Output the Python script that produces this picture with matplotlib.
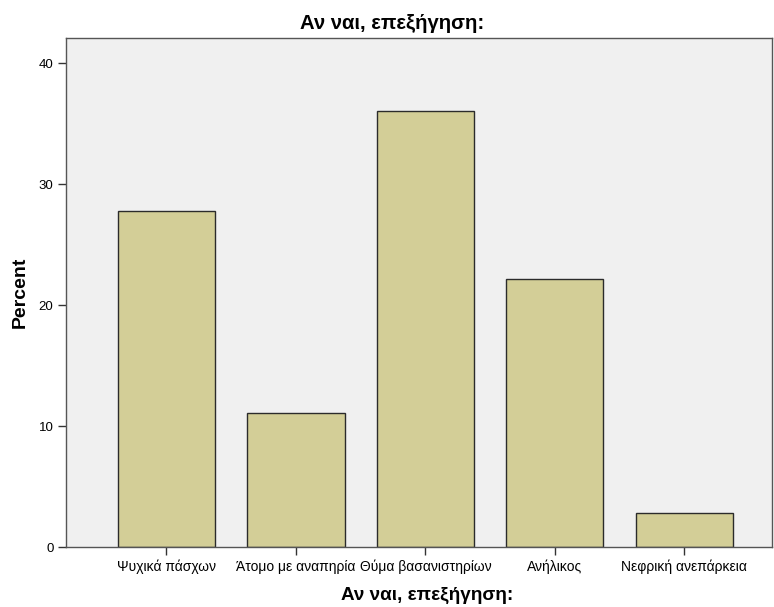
import matplotlib.pyplot as plt
import numpy as np

categories = ["Ψυχικά πάσχων", "Άτομο με αναπηρία", "Θύμα βασανιστηρίων", "Ανήλικος", "Νεφρική ανεπάρκεια"]
percent = [27.8, 11.1, 36.1, 22.2, 2.8]
yticks = [0, 10, 20, 30, 40]

plt.rcParams['font.family'] = ['Liberation Sans', 'DejaVu Sans']

fig = plt.figure(figsize=(7.74, 6.07), dpi=100)
ax = fig.add_axes([0.0853, 0.0988, 0.912, 0.838])
ax.set_facecolor("#f0f0f0")

x = np.arange(len(categories))
ax.bar(x, percent, width=0.75, color="#d3ce97", edgecolor="#2b2b2b", linewidth=1)

ax.set_xlim(-0.776, 4.676)
ax.set_ylim(0, 42.07)
ax.set_xticks(x)
ax.set_xticklabels(categories, fontsize=10)
ax.set_yticks(yticks)
ax.set_yticklabels([str(t) for t in yticks], fontsize=9.5)
ax.tick_params(length=6, width=1, color="#333333", pad=3)

for s in ax.spines.values():
    s.set_color("#555555")
    s.set_linewidth(1)

# title sits centred on the figure rather than the plot area
ax.set_title("Αν ναι, επεξήγηση:", fontsize=14.6, fontweight="bold", pad=7, x=0.462)
ax.set_xlabel("Αν ναι, επεξήγηση:", fontsize=13.6, fontweight="bold")
ax.xaxis.set_label_coords(0.511, -0.078)
ax.set_ylabel("Percent", fontsize=14, fontweight="bold", labelpad=7)

fig.savefig("out.png", dpi=100, facecolor="white")
